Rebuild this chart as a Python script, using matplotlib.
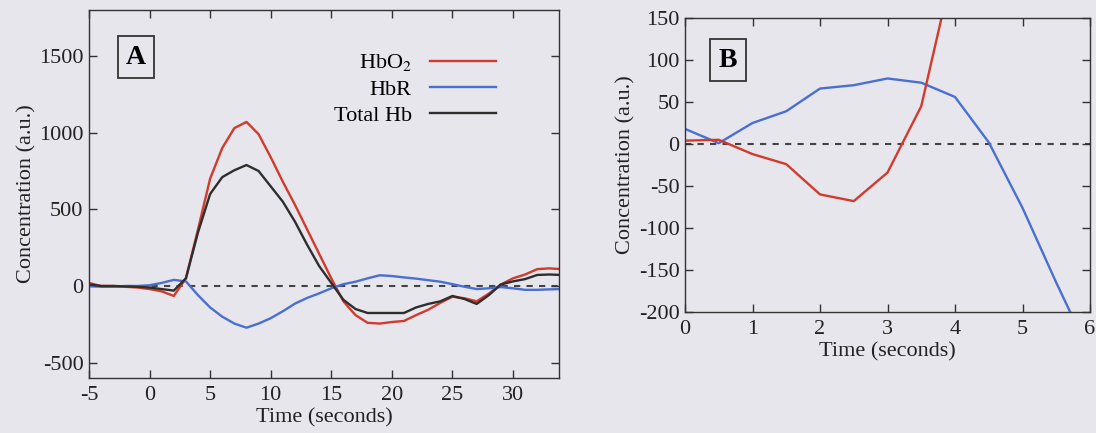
import numpy as np
import matplotlib.pyplot as plt

plt.rcParams['font.family'] = ['Liberation Serif', 'DejaVu Serif']
plt.rcParams['mathtext.fontset'] = 'stix'
plt.rcParams['axes.unicode_minus'] = False

# panel A data (time in seconds, concentration in a.u.)
time_a = list(range(-5, 35))
hbo2_a = [20, 0, 0, -5, -10, -20, -35, -65, 50, 370,
          700, 900, 1030, 1070, 990, 840, 680, 530, 370, 210,
          50, -100, -190, -240, -245, -235, -228, -190, -155, -110,
          -70, -80, -100, -50, 10, 50, 75, 110, 115, 110]
hbr_a = [0, -5, -5, 0, 0, 5, 20, 40, 30, -60,
         -140, -200, -245, -272, -245, -210, -165, -115, -78, -48,
         -15, 12, 28, 50, 70, 65, 56, 48, 38, 28,
         12, -5, -20, -15, -7, -15, -25, -25, -22, -20]
total_a = [10, 0, 0, -3, -5, -10, -20, -30, 50, 350,
           600, 710, 755, 789, 750, 650, 550, 420, 270, 130,
           20, -90, -150, -176, -176, -176, -176, -140, -117, -100,
           -65, -85, -117, -60, 10, 30, 45, 72, 75, 72]

# panel B data
time_b = [0, 0.5, 1, 1.5, 2, 2.5, 3, 3.5, 4, 4.5, 5, 5.5, 6]
hbo2_b = [4, 5, -12, -24, -60, -68, -34, 45, 220, 420, 690, 800, 900]
hbr_b = [18, 1, 25, 39, 66, 70, 78, 73, 56, 2, -76, -165, -250]

bg = '#e6e6ec'
red = '#d23a2c'
blue = '#4a6fd2'
black = '#2e2e2e'

fig = plt.figure(figsize=(10.96, 4.33), dpi=100)
fig.patch.set_facecolor(bg)

W, H = 1096, 433
axA = fig.add_axes([89 / W, 1 - 378 / H, 470 / W, 368 / H])
axB = fig.add_axes([685 / W, 1 - 312 / H, 405 / W, 294 / H])

for ax in (axA, axB):
    ax.set_facecolor(bg)
    ax.axhline(0, color='#444444', lw=1.5, ls=(0, (3, 3)), zorder=1)
    ax.tick_params(direction='in', length=6, width=1, top=True, right=True,
                   labelsize=16, colors='#333333', labelcolor='#222222')
    ax.tick_params(axis='y', pad=4)
    ax.tick_params(axis='x', pad=6)
    for s in ax.spines.values():
        s.set_color('#333333')
        s.set_linewidth(1)
    ax.set_xlabel('Time (seconds)', fontsize=16, color='#222222', labelpad=2)
    ax.set_ylabel('Concentration (a.u.)', fontsize=16, color='#222222', labelpad=2)

# panel A
axA.plot(time_a, hbo2_a, color=red, lw=1.7, label='HbO$_2$')
axA.plot(time_a, hbr_a, color=blue, lw=1.7, label='HbR')
axA.plot(time_a, total_a, color=black, lw=1.7, label='Total Hb')
axA.set_xlim(-5, 33.8)
axA.set_ylim(-600, 1800)
axA.set_xticks([-5, 0, 5, 10, 15, 20, 25, 30])
axA.set_yticks([-500, 0, 500, 1000, 1500])
axA.legend(loc='upper right', bbox_to_anchor=(0.89, 0.915), frameon=False,
           markerfirst=False, fontsize=16, handlelength=3.0,
           handletextpad=0.8, labelspacing=0.25, borderpad=0)
axA.text(0.1, 0.872, 'A', transform=axA.transAxes, fontsize=20,
         fontweight='bold', ha='center', va='center',
         bbox=dict(boxstyle='square,pad=0.3', fc='none', ec='#333333', lw=1.3))

# panel B
axB.plot(time_b, hbr_b, color=blue, lw=1.7)
axB.plot(time_b, hbo2_b, color=red, lw=1.7)
axB.set_xlim(0, 6)
axB.set_ylim(-200, 150)
axB.set_xticks(range(0, 7))
axB.set_yticks([-200, -150, -100, -50, 0, 50, 100, 150])
axB.text(0.106, 0.857, 'B', transform=axB.transAxes, fontsize=20,
         fontweight='bold', ha='center', va='center',
         bbox=dict(boxstyle='square,pad=0.3', fc='none', ec='#333333', lw=1.3))

fig.savefig('out.png', dpi=100, facecolor=bg)
